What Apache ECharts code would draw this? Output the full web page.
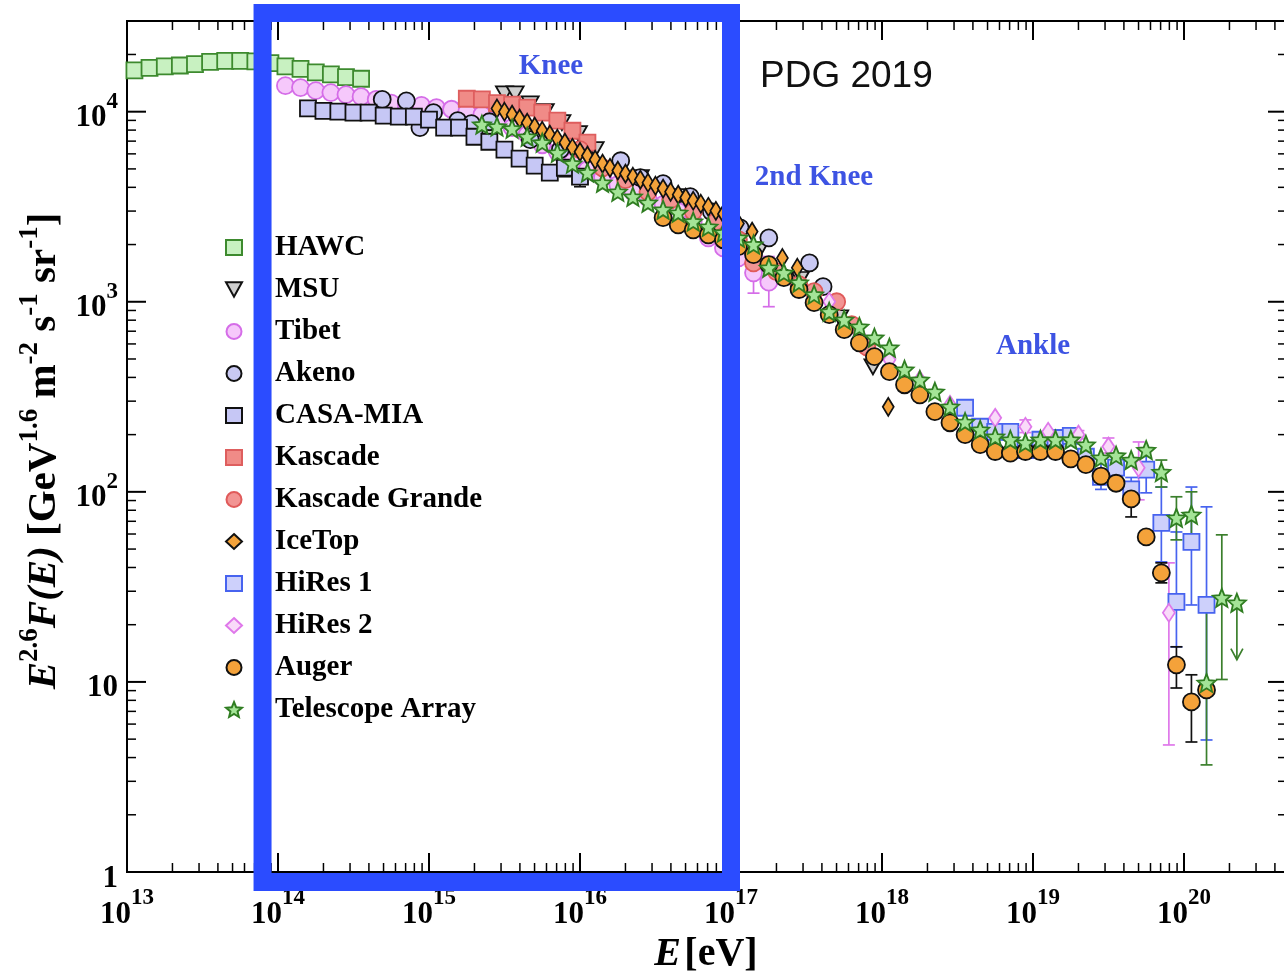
<!DOCTYPE html>
<html>
<head>
<meta charset="utf-8">
<title>Cosmic-ray all-particle spectrum</title>
<script src="https://cdn.jsdelivr.net/npm/echarts@6/dist/echarts.min.js"></script>
<style>
  html, body { margin: 0; padding: 0; background: #fff; }
  #chart { width: 1284px; height: 976px; }
</style>
</head>
<body>
<div id="chart"></div>
<script>
// ---- Measured spectra: energy E [eV] and E^2.6 F(E) [GeV^1.6 m^-2 s^-1 sr^-1] ----
const HAWC_E = [1.12e13, 1.41e13, 1.78e13, 2.24e13, 2.82e13, 3.55e13, 4.47e13, 5.62e13, 7.08e13, 8.91e13, 1.12e14, 1.41e14, 1.78e14, 2.24e14, 2.82e14, 3.55e14];
const HAWC_F = [16500, 17000, 17300, 17500, 17800, 18300, 18500, 18500, 18400, 18000, 17300, 16800, 16100, 15700, 15200, 14900];

const MSU_E = [3.16e15, 3.72e15, 4.68e15, 5.89e15, 7.59e15, 9.77e15, 1.26e16, 2.51e16, 4.57e16, 8.51e16, 1.55e17, 2.88e17, 5.25e17, 8.71e17];
const MSU_F = [12400, 12400, 11000, 10000, 8750, 7660, 6310, 4500, 3570, 2700, 1880, 1310, 824, 455];

const TIBET_E = [1.12e14, 1.41e14, 1.78e14, 2.24e14, 2.82e14, 3.55e14, 4.47e14, 5.62e14, 7.08e14, 8.91e14, 1.12e15, 1.41e15, 1.78e15, 2.24e15, 2.82e15, 3.55e15, 4.47e15, 5.62e15, 7.08e15, 8.91e15, 1.12e16, 1.41e16, 1.78e16, 2.24e16, 2.82e16, 3.55e16, 4.47e16, 5.62e16, 7.08e16, 8.91e16, 1.12e17, 1.41e17, 1.78e17];
const TIBET_F = [13700, 13400, 12900, 12600, 12300, 12000, 11600, 11100, 10900, 10800, 10500, 10300, 10000, 9650, 9080, 8240, 7570, 6700, 6150, 5450, 4950, 4500, 4130, 3790, 3520, 3240, 2980, 2640, 2170, 1920, 1700, 1420, 1270];

const AKENO_E = [4.90e14, 7.08e14, 8.71e14, 1.07e15, 1.55e15, 1.91e15, 2.51e15, 4.68e15, 7.41e15, 1.86e16, 2.51e16, 3.55e16, 5.37e16, 7.41e16, 1.15e17, 1.78e17, 3.31e17, 4.07e17];
const AKENO_F = [11600, 11400, 8240, 9880, 8970, 8650, 8850, 7130, 6310, 5520, 4500, 4180, 3570, 2980, 2450, 2170, 1600, 1200];

const CASA_E = [1.58e14, 2.0e14, 2.51e14, 3.16e14, 3.98e14, 5.01e14, 6.31e14, 7.94e14, 1.0e15, 1.26e15, 1.58e15, 2.0e15, 2.51e15, 3.16e15, 3.98e15, 5.01e15, 6.31e15, 7.94e15, 1.0e16];
const CASA_F = [10400, 10100, 10000, 9880, 9880, 9530, 9410, 9410, 9080, 8240, 8240, 7380, 6950, 6310, 5660, 5200, 4780, 5070, 4550];

const KASCADE_E = [1.78e15, 2.24e15, 2.82e15, 3.55e15, 4.47e15, 5.62e15, 7.08e15, 8.91e15, 1.12e16];
const KASCADE_F = [11700, 11600, 11100, 10900, 10500, 9880, 8970, 7940, 6870];

const KG_E = [1.0e16, 1.41e16, 2.0e16, 2.82e16, 3.98e16, 5.62e16, 7.94e16, 1.12e17, 1.41e17, 2.0e17, 2.82e17, 3.55e17, 5.01e17, 6.31e17, 7.94e17];
const KG_F = [6310, 5070, 4390, 3790, 3440, 2980, 2640, 2120, 1600, 1440, 1230, 1130, 1000, 757, 579];

const ICETOP_E = [2.82e15, 3.16e15, 3.55e15, 3.98e15, 4.47e15, 5.01e15, 5.62e15, 6.31e15, 7.08e15, 7.94e15, 8.91e15, 1.0e16, 1.12e16, 1.26e16, 1.41e16, 1.58e16, 1.78e16, 2.0e16, 2.24e16, 2.51e16, 2.82e16, 3.16e16, 3.55e16, 3.98e16, 4.47e16, 5.01e16, 5.62e16, 6.31e16, 7.08e16, 7.94e16, 8.91e16, 1.12e17, 1.38e17, 2.19e17, 2.75e17, 1.10e18];
const ICETOP_F = [10400, 10000, 9650, 9190, 8750, 8340, 7940, 7570, 7210, 6870, 6460, 6150, 5870, 5590, 5330, 5070, 4900, 4720, 4550, 4390, 4230, 4080, 3940, 3790, 3660, 3530, 3400, 3280, 3160, 3010, 2900, 2580, 2340, 1700, 1510, 280];

const HIRES1_E = [3.55e18, 4.47e18, 5.62e18, 7.08e18, 8.91e18, 1.12e19, 1.41e19, 1.78e19, 2.24e19, 2.82e19, 3.55e19, 4.47e19, 5.62e19, 7.08e19, 8.91e19, 1.12e20, 1.41e20];
const HIRES1_F = [277, 220, 207, 207, 166, 188, 192, 197, 153, 120, 134, 103, 131, 68.7, 26.4, 54.6, 25.4];

const HIRES2_E = [4.47e17, 7.08e17, 1.12e18, 1.78e18, 2.82e18, 5.62e18, 8.91e18, 1.26e19, 2.0e19, 3.16e19, 5.01e19, 7.94e19];
const HIRES2_F = [1000, 670, 495, 388, 287, 245, 220, 207, 200, 173, 134, 23.1];

const AUGER_E = [3.55e16, 4.47e16, 5.62e16, 7.08e16, 8.91e16, 1.12e17, 1.41e17, 1.78e17, 2.24e17, 2.82e17, 3.55e17, 4.47e17, 5.62e17, 7.08e17, 8.91e17, 1.12e18, 1.41e18, 1.78e18, 2.24e18, 2.82e18, 3.55e18, 4.47e18, 5.62e18, 7.08e18, 8.91e18, 1.12e19, 1.41e19, 1.78e19, 2.24e19, 2.82e19, 3.55e19, 4.47e19, 5.62e19, 7.08e19, 8.91e19, 1.12e20, 1.41e20];
const AUGER_F = [2770, 2540, 2390, 2250, 2120, 1950, 1770, 1570, 1340, 1160, 989, 855, 713, 608, 514, 429, 366, 324, 264, 231, 200, 177, 163, 160, 163, 163, 163, 149, 139, 121, 111, 91.8, 57.9, 37.5, 12.3, 7.85, 9.08];

const TA_E = [2.24e15, 2.82e15, 3.55e15, 4.47e15, 5.62e15, 7.08e15, 8.91e15, 1.12e16, 1.41e16, 1.78e16, 2.24e16, 2.82e16, 3.55e16, 4.47e16, 5.62e16, 7.08e16, 8.91e16, 1.12e17, 1.41e17, 1.78e17, 2.24e17, 2.82e17, 3.55e17, 4.47e17, 5.62e17, 7.08e17, 8.91e17, 1.12e18, 1.41e18, 1.78e18, 2.24e18, 2.82e18, 3.55e18, 4.47e18, 5.62e18, 7.08e18, 8.91e18, 1.12e19, 1.41e19, 1.78e19, 2.24e19, 2.82e19, 3.55e19, 4.47e19, 5.62e19, 7.08e19, 8.91e19, 1.12e20, 1.41e20, 1.78e20, 2.24e20];
const TA_F = [8550, 8340, 8140, 7380, 6870, 6080, 5330, 4780, 4230, 3790, 3570, 3320, 3050, 2940, 2640, 2480, 2310, 2170, 2000, 1510, 1420, 1260, 1090, 886, 804, 738, 647, 573, 439, 388, 336, 280, 233, 212, 195, 188, 181, 188, 188, 188, 177, 151, 155, 147, 166, 127, 73, 75.7, 9.88, 27.7, 26.1];

// Error bars: [E, lower, upper]
const TIBET_ERR  = [[1.41e17, 1110, 1810], [1.78e17, 942, 1730]];
const CASA_ERR   = [[7.94e15, 4550, 5590], [1.0e16, 4030, 5070]];
const HIRES1_ERR = [[2.82e19, 103, 140], [4.47e19, 85.5, 119], [5.62e19, 98.8, 166], [7.08e19, 42.8, 106], [8.91e19, 15.3, 61.5], [1.12e20, 25.4, 106], [1.41e20, 4.95, 83.4]];
const HIRES2_ERR = [[8.91e18, 205, 239], [2.0e19, 190, 210], [3.16e19, 160, 192], [5.01e19, 90.8, 183], [7.94e19, 4.66, 42.3]];
const AUGER_ERR  = [[4.47e19, 73.8, 103], [7.08e19, 33.2, 42.3], [8.91e19, 9.29, 15.3], [1.12e20, 4.83, 10.9]];
const TA_ERR     = [[7.08e19, 106, 147], [8.91e19, 55.9, 94.2], [1.12e20, 53.9, 100], [1.41e20, 3.66, 27.0], [1.78e20, 10.3, 59.4]];
// Upper limit: [E, from, arrow tip]
const TA_LIMIT   = [[2.24e20, 26.1, 13.1]];

// Axis ranges and the highlighted energy band
const X_MIN = 1e13, X_MAX = 4.81e20;
const Y_MIN = 1, Y_MAX = 3e4;
const BAND_E = [7.9e13, 1.0e17];

const SERIF = '"Liberation Serif", "Times New Roman", serif';
const TRI_DOWN = 'path://M0,0L10,0L5,9Z';
const STAR = 'path://M50,0L63.2,31.8L97.6,34.5L71.4,56.9L79.4,90.5L50,72.5L20.6,90.5L28.6,56.9L2.4,34.5L36.8,31.8Z';

const SETS = [
  { name: 'HAWC',            E: HAWC_E,    F: HAWC_F,    symbol: 'rect',    size: 16,       fill: '#c8f1c1', stroke: '#3d8a2e' },
  { name: 'MSU',             E: MSU_E,     F: MSU_F,     symbol: TRI_DOWN,  size: [17, 15], fill: '#cfcfcf', stroke: '#111111' },
  { name: 'Tibet',           E: TIBET_E,   F: TIBET_F,   symbol: 'circle',  size: 17,       fill: '#f6c8fb', stroke: '#d56de8' },
  { name: 'Akeno',           E: AKENO_E,   F: AKENO_F,   symbol: 'circle',  size: 17,       fill: '#c9c9f3', stroke: '#111111' },
  { name: 'CASA-MIA',        E: CASA_E,    F: CASA_F,    symbol: 'rect',    size: 16,       fill: '#c6c7f5', stroke: '#111111' },
  { name: 'Kascade',         E: KASCADE_E, F: KASCADE_F, symbol: 'rect',    size: 16,       fill: '#f08b87', stroke: '#de5e5e' },
  { name: 'Kascade Grande',  E: KG_E,      F: KG_F,      symbol: 'circle',  size: 17,       fill: '#f29493', stroke: '#e05a5a' },
  { name: 'IceTop',          E: ICETOP_E,  F: ICETOP_F,  symbol: 'diamond', size: [11, 18], fill: '#f4a33b', stroke: '#111111' },
  { name: 'HiRes 1',         E: HIRES1_E,  F: HIRES1_F,  symbol: 'rect',    size: 16,       fill: '#cdd0fb', stroke: '#4763ef' },
  { name: 'HiRes 2',         E: HIRES2_E,  F: HIRES2_F,  symbol: 'diamond', size: [12, 18], fill: '#f9daf9', stroke: '#df78ea' },
  { name: 'Auger',           E: AUGER_E,   F: AUGER_F,   symbol: 'circle',  size: 17,       fill: '#f4a23a', stroke: '#111111' },
  { name: 'Telescope Array', E: TA_E,      F: TA_F,      symbol: STAR,      size: 18,       fill: '#a4e497', stroke: '#2f7d21' }
];

const ERRORS = [
  { data: TIBET_ERR,  color: '#d56de8' },
  { data: CASA_ERR,   color: '#111111' },
  { data: HIRES1_ERR, color: '#4763ef' },
  { data: HIRES2_ERR, color: '#df78ea' },
  { data: AUGER_ERR,  color: '#111111' },
  { data: TA_ERR,     color: '#3b7f2c' }
];

// "10^n" tick labels; the exponent is lifted by bottom padding on its token
function powerLabel(v) {
  const lg = Math.log10(v);
  const n = Math.round(lg);
  if (Math.abs(lg - n) > 1e-6) return '';
  if (n === 0) return '{b|1}';
  if (n === 1) return '{b|10}';
  return '{b|10}{s|' + n + '}';
}
const LABEL_RICH = {
  b: { fontFamily: SERIF, fontWeight: 'bold', fontSize: 31, lineHeight: 31, color: '#000' },
  s: { fontFamily: SERIF, fontWeight: 'bold', fontSize: 23, lineHeight: 23, padding: [0, 0, 32, 0], color: '#000' }
};

// Axis titles with italic symbols and raised exponents
const TITLE_RICH_X = {
  i: { fontFamily: SERIF, fontWeight: 'bold', fontStyle: 'italic', fontSize: 40, lineHeight: 40, fill: '#000' },
  b: { fontFamily: SERIF, fontWeight: 'bold', fontSize: 40, lineHeight: 40, fill: '#000' }
};
const TITLE_RICH_Y = {
  i: { fontFamily: SERIF, fontWeight: 'bold', fontStyle: 'italic', fontSize: 41, lineHeight: 41, fill: '#000' },
  b: { fontFamily: SERIF, fontWeight: 'bold', fontSize: 41, lineHeight: 41, fill: '#000' },
  s: { fontFamily: SERIF, fontWeight: 'bold', fontSize: 27, lineHeight: 27, padding: [0, 0, 28, 0], fill: '#000' }
};

// Error bars with caps
function errorRenderer(color) {
  return function (params, api) {
    const e = api.value(0);
    const p1 = api.coord([e, api.value(1)]);
    const p2 = api.coord([e, api.value(2)]);
    const c = 6;
    const st = { stroke: color, lineWidth: 1.7 };
    return {
      type: 'group',
      children: [
        { type: 'line', shape: { x1: p1[0], y1: p1[1], x2: p2[0], y2: p2[1] }, style: st },
        { type: 'line', shape: { x1: p1[0] - c, y1: p1[1], x2: p1[0] + c, y2: p1[1] }, style: st },
        { type: 'line', shape: { x1: p2[0] - c, y1: p2[1], x2: p2[0] + c, y2: p2[1] }, style: st }
      ]
    };
  };
}

function limitRenderer(params, api) {
  const e = api.value(0);
  const p1 = api.coord([e, api.value(1)]);
  const p2 = api.coord([e, api.value(2)]);
  const st = { stroke: '#3b7f2c', lineWidth: 1.7, fill: 'none' };
  return {
    type: 'group',
    children: [
      { type: 'line', shape: { x1: p1[0], y1: p1[1], x2: p2[0], y2: p2[1] }, style: st },
      { type: 'polyline', shape: { points: [[p2[0] - 6, p2[1] - 11], [p2[0], p2[1]], [p2[0] + 6, p2[1] - 11]] }, style: st }
    ]
  };
}

// Major and minor log ticks on all four sides of the frame
function frameTicks(params, api) {
  const cs = params.coordSys;
  const left = cs.x, right = cs.x + cs.width, top = cs.y, bottom = cs.y + cs.height;
  const kids = [];
  const seg = (x1, y1, x2, y2, w) => kids.push({ type: 'line', shape: { x1, y1, x2, y2 }, style: { stroke: '#000', lineWidth: w } });
  for (let d = 13; d <= 20; d++) {
    for (let m = 1; m <= 9; m++) {
      const v = m * Math.pow(10, d);
      if (v <= X_MIN * 1.0001 || v >= X_MAX) continue;
      const x = api.coord([v, Y_MIN])[0];
      const len = m === 1 ? 19 : 9, w = m === 1 ? 2 : 1.5;
      seg(x, bottom, x, bottom - len, w);
      seg(x, top, x, top + len, w);
    }
  }
  for (let d = 0; d <= 4; d++) {
    for (let m = 1; m <= 9; m++) {
      const v = m * Math.pow(10, d);
      if (v <= Y_MIN * 1.0001 || v >= Y_MAX * 0.9999) continue;
      const y = api.coord([X_MIN, v])[1];
      const len = m === 1 ? 19 : 9, w = m === 1 ? 2 : 1.5;
      seg(left, y, left + len, y, w);
      seg(right, y, right - len, y, w);
    }
  }
  return { type: 'group', children: kids };
}

function bandRenderer(params, api) {
  const cs = params.coordSys;
  const x1 = api.coord([api.value(0), Y_MIN])[0];
  const x2 = api.coord([api.value(1), Y_MIN])[0];
  const top = cs.y - 8, bottom = cs.y + cs.height + 10;
  return {
    type: 'rect',
    shape: { x: x1, y: top, width: x2 - x1, height: bottom - top },
    style: { fill: 'none', stroke: '#2b4cff', lineWidth: 18 }
  };
}

const series = [];
ERRORS.forEach((g, i) => {
  series.push({
    type: 'custom', name: 'err' + i, data: g.data, encode: { x: 0, y: [1, 2] },
    renderItem: errorRenderer(g.color), clip: false, silent: true, z: 1
  });
});
series.push({
  type: 'custom', name: 'limit', data: TA_LIMIT, encode: { x: 0, y: [1, 2] },
  renderItem: limitRenderer, clip: false, silent: true, z: 1
});
SETS.forEach(s => {
  series.push({
    type: 'scatter',
    name: s.name,
    data: s.E.map((e, i) => [e, s.F[i]]),
    symbol: s.symbol,
    symbolSize: s.size,
    itemStyle: { color: s.fill, borderColor: s.stroke, borderWidth: 1.8, opacity: 1 },
    emphasis: { disabled: true },
    z: 3
  });
});
series.push({
  type: 'custom', name: 'ticks', data: [[X_MIN, Y_MIN]], encode: { x: 0, y: 1 },
  renderItem: frameTicks, clip: false, silent: true, z: 5
});
series.push({
  type: 'custom', name: 'band', data: [[BAND_E[0], BAND_E[1], Y_MIN]], encode: { x: [0, 1], y: 2 },
  renderItem: bandRenderer, clip: false, silent: true, z: 20
});

const chart = echarts.init(document.getElementById('chart'), null, { renderer: 'canvas' });
chart.setOption({
  backgroundColor: '#ffffff',
  animation: false,
  grid: {
    left: 127, top: 21, width: 1160, height: 851,
    outerBoundsMode: 'none', containLabel: false,
    show: true, borderColor: '#000', borderWidth: 2, backgroundColor: 'transparent'
  },
  xAxis: {
    type: 'log', logBase: 10, min: X_MIN, max: X_MAX,
    axisLine: { show: false }, axisTick: { show: false }, splitLine: { show: false },
    axisLabel: { margin: 27, verticalAlign: 'top', formatter: powerLabel, rich: LABEL_RICH, showMinLabel: true, showMaxLabel: true }
  },
  yAxis: {
    type: 'log', logBase: 10, min: Y_MIN, max: Y_MAX,
    axisLine: { show: false }, axisTick: { show: false }, splitLine: { show: false },
    axisLabel: { margin: 9, verticalAlign: 'middle', padding: [13, 0, 0, 0], formatter: powerLabel, rich: LABEL_RICH, showMinLabel: true }
  },
  legend: {
    data: SETS.map(s => s.name),
    orient: 'vertical', left: 220, top: 228,
    itemWidth: 16, itemHeight: 15, itemGap: 13,
    selectedMode: false,
    textStyle: { fontFamily: SERIF, fontWeight: 'bold', fontSize: 29, color: '#000', padding: [0, 0, 0, 28] }
  },
  graphic: [
    { type: 'text', x: 706, y: 955, z: 30, style: { text: '{i|E} {b|[eV]}', rich: TITLE_RICH_X, align: 'center', verticalAlign: 'middle' } },
    { type: 'text', x: 44, y: 451, rotation: Math.PI / 2, z: 30,
      style: { text: '{i|E}{s|2.6}{i|F}{i|(E)}{b| [GeV}{s|1.6}{b| m}{s|-2}{b| s}{s|-1}{b| sr}{s|-1}{b|]}', rich: TITLE_RICH_Y, align: 'center', verticalAlign: 'middle' } },
    { type: 'text', x: 551, y: 67, z: 30, style: { text: 'Knee', font: 'bold 29px ' + SERIF, fill: '#3d53e3', align: 'center', verticalAlign: 'middle' } },
    { type: 'text', x: 814, y: 178, z: 30, style: { text: '2nd Knee', font: 'bold 29px ' + SERIF, fill: '#3d53e3', align: 'center', verticalAlign: 'middle' } },
    { type: 'text', x: 1033, y: 347, z: 30, style: { text: 'Ankle', font: 'bold 29px ' + SERIF, fill: '#3d53e3', align: 'center', verticalAlign: 'middle' } },
    { type: 'text', x: 760, y: 77, z: 30, style: { text: 'PDG 2019', font: '37px "Liberation Sans", Arial, sans-serif', fill: '#111', align: 'left', verticalAlign: 'middle' } }
  ],
  series: series
});
</script>
</body>
</html>
